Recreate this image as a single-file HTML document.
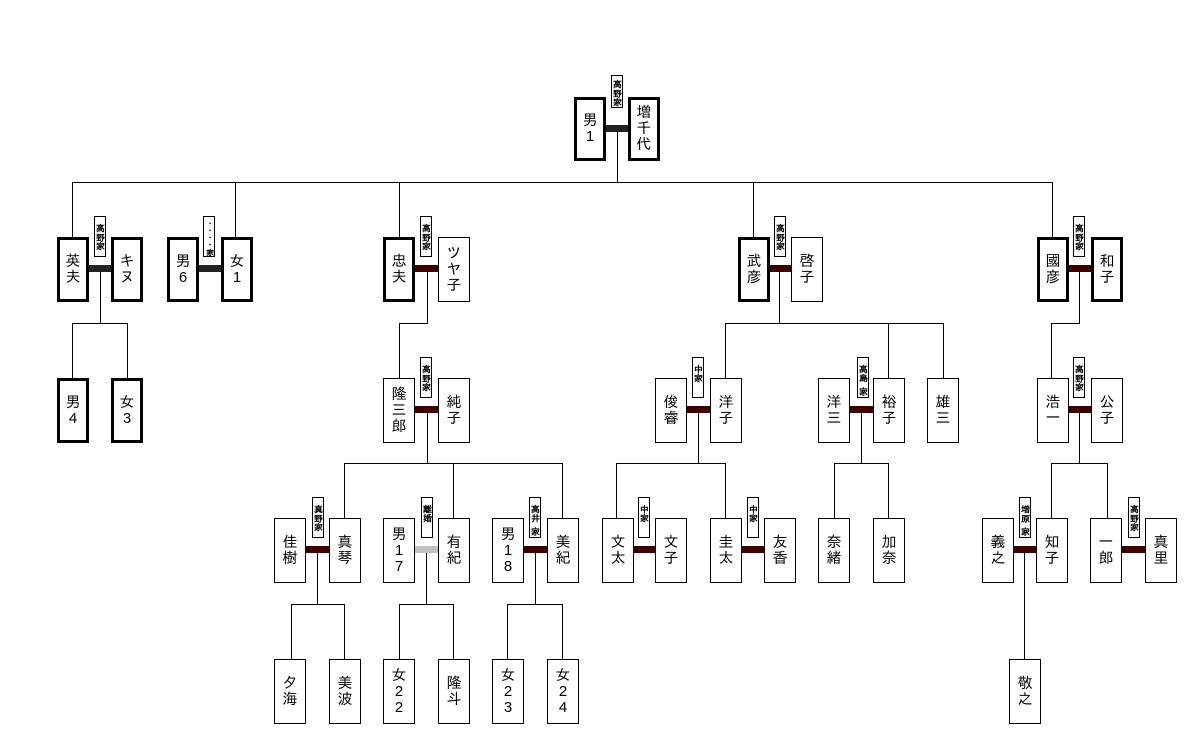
<!DOCTYPE html>
<html><head><meta charset="utf-8"><style>
html,body{margin:0;padding:0;background:#fff;}
body{width:1200px;height:750px;position:relative;overflow:hidden;font-family:"Liberation Sans","IPAGothic","Noto Sans CJK JP",sans-serif;}
.b{position:absolute;width:32px;height:65px;box-sizing:border-box;border:1px solid #000;background:#fff;display:flex;flex-direction:column;align-items:center;justify-content:center;font-size:15px;line-height:16px;color:#000;text-align:center;}
.t{border:3px solid #000;}
.h{position:absolute;height:1px;background:#000;}
.v{position:absolute;width:1px;background:#000;}
.bar{position:absolute;height:7px;background:#3c0000;}
.k{background:#222;}
.g{background:#c0c0c0;}
.l{position:absolute;width:12px;height:41px;box-sizing:border-box;border:1px solid #000;background:#fff;writing-mode:vertical-rl;font-size:9px;line-height:10px;font-weight:bold;padding-top:6px;color:#000;white-space:nowrap;overflow:hidden;font-family:"IPAGothic","Noto Sans CJK JP",sans-serif;}
</style></head><body>

<!-- lines -->
<div class="v" style="left:617px;top:132px;height:50px"></div>
<div class="h" style="left:72px;top:182px;width:981px"></div>
<div class="v" style="left:72px;top:182px;height:55px"></div>
<div class="v" style="left:235px;top:182px;height:55px"></div>
<div class="v" style="left:399px;top:182px;height:55px"></div>
<div class="v" style="left:753px;top:182px;height:55px"></div>
<div class="v" style="left:1052px;top:182px;height:55px"></div>

<!-- 英夫 children -->
<div class="v" style="left:100px;top:272px;height:51px"></div>
<div class="h" style="left:72px;top:323px;width:56px"></div>
<div class="v" style="left:72px;top:323px;height:55px"></div>
<div class="v" style="left:127px;top:323px;height:55px"></div>
<!-- 忠夫 -->
<div class="v" style="left:427px;top:272px;height:51px"></div>
<div class="h" style="left:399px;top:323px;width:29px"></div>
<div class="v" style="left:399px;top:323px;height:55px"></div>
<!-- 隆三郎 -->
<div class="v" style="left:427px;top:413px;height:50px"></div>
<div class="h" style="left:344px;top:463px;width:219px"></div>
<div class="v" style="left:344px;top:463px;height:55px"></div>
<div class="v" style="left:453px;top:463px;height:55px"></div>
<div class="v" style="left:562px;top:463px;height:55px"></div>
<!-- 武彦 -->
<div class="v" style="left:779px;top:272px;height:51px"></div>
<div class="h" style="left:725px;top:323px;width:219px"></div>
<div class="v" style="left:725px;top:323px;height:55px"></div>
<div class="v" style="left:888px;top:323px;height:55px"></div>
<div class="v" style="left:943px;top:323px;height:55px"></div>
<!-- 國彦 -->
<div class="v" style="left:1079px;top:272px;height:51px"></div>
<div class="h" style="left:1051px;top:323px;width:29px"></div>
<div class="v" style="left:1051px;top:323px;height:55px"></div>
<!-- 俊睿 -->
<div class="v" style="left:698px;top:413px;height:50px"></div>
<div class="h" style="left:616px;top:463px;width:110px"></div>
<div class="v" style="left:616px;top:463px;height:55px"></div>
<div class="v" style="left:725px;top:463px;height:55px"></div>
<!-- 洋三 -->
<div class="v" style="left:861px;top:413px;height:50px"></div>
<div class="h" style="left:834px;top:463px;width:55px"></div>
<div class="v" style="left:834px;top:463px;height:55px"></div>
<div class="v" style="left:888px;top:463px;height:55px"></div>
<!-- 浩一 -->
<div class="v" style="left:1079px;top:413px;height:50px"></div>
<div class="h" style="left:1051px;top:463px;width:57px"></div>
<div class="v" style="left:1051px;top:463px;height:55px"></div>
<div class="v" style="left:1107px;top:463px;height:55px"></div>
<!-- row4 children -->
<div class="v" style="left:317px;top:553px;height:51px"></div>
<div class="h" style="left:291px;top:604px;width:54px"></div>
<div class="v" style="left:291px;top:604px;height:55px"></div>
<div class="v" style="left:344px;top:604px;height:55px"></div>
<div class="v" style="left:426px;top:553px;height:51px"></div>
<div class="h" style="left:399px;top:604px;width:55px"></div>
<div class="v" style="left:399px;top:604px;height:55px"></div>
<div class="v" style="left:453px;top:604px;height:55px"></div>
<div class="v" style="left:535px;top:553px;height:51px"></div>
<div class="h" style="left:507px;top:604px;width:56px"></div>
<div class="v" style="left:507px;top:604px;height:55px"></div>
<div class="v" style="left:562px;top:604px;height:55px"></div>
<div class="v" style="left:1024px;top:553px;height:106px"></div>

<!-- bars -->
<div class="bar k" style="left:606px;top:125px;width:22px"></div>
<div class="bar k" style="left:89px;top:265px;width:22px"></div>
<div class="bar k" style="left:199px;top:265px;width:22px"></div>
<div class="bar" style="left:415px;top:265px;width:23px"></div>
<div class="bar" style="left:770px;top:265px;width:21px"></div>
<div class="bar" style="left:1069px;top:265px;width:22px"></div>
<div class="bar" style="left:415px;top:406px;width:23px"></div>
<div class="bar" style="left:687px;top:406px;width:23px"></div>
<div class="bar" style="left:850px;top:406px;width:23px"></div>
<div class="bar" style="left:1069px;top:406px;width:22px"></div>
<div class="bar" style="left:306px;top:546px;width:23px"></div>
<div class="bar g" style="left:415px;top:546px;width:23px"></div>
<div class="bar" style="left:524px;top:546px;width:23px"></div>
<div class="bar" style="left:634px;top:546px;width:21px"></div>
<div class="bar" style="left:742px;top:546px;width:22px"></div>
<div class="bar" style="left:1014px;top:546px;width:22px"></div>
<div class="bar" style="left:1122px;top:546px;width:23px"></div>

<!-- labels -->
<div class="l" style="left:611px;top:75px;height:33px;padding-top:3px">高野家</div>
<div class="l" style="left:94px;top:216px">高野家</div>
<div class="l" style="left:203px;top:216px;padding-top:2px;font-size:8px;line-height:9px;letter-spacing:-1px">・・・・家</div>
<div class="l" style="left:420px;top:216px">高野家</div>
<div class="l" style="left:774px;top:216px">高野家</div>
<div class="l" style="left:1073px;top:216px">高野家</div>
<div class="l" style="left:420px;top:357px">高野家</div>
<div class="l" style="left:692px;top:357px">中家</div>
<div class="l" style="left:857px;top:357px">高島 家</div>
<div class="l" style="left:1073px;top:357px">高野家</div>
<div class="l" style="left:312px;top:497px">真野家</div>
<div class="l" style="left:421px;top:497px">離婚</div>
<div class="l" style="left:529px;top:497px">高井 家</div>
<div class="l" style="left:638px;top:497px">中家</div>
<div class="l" style="left:747px;top:497px">中家</div>
<div class="l" style="left:1019px;top:497px">増原 家</div>
<div class="l" style="left:1128px;top:497px">高野家</div>

<!-- row1 -->
<div class="b t" style="left:574px;top:97px;height:64px">男<br>1</div>
<div class="b t" style="left:628px;top:97px;height:64px">増<br>千<br>代</div>

<!-- row2 -->
<div class="b t" style="left:57px;top:237px">英<br>夫</div>
<div class="b t" style="left:111px;top:237px">キ<br>ヌ</div>
<div class="b t" style="left:167px;top:237px">男<br>6</div>
<div class="b t" style="left:221px;top:237px">女<br>1</div>
<div class="b t" style="left:383px;top:237px">忠<br>夫</div>
<div class="b" style="left:438px;top:237px">ツ<br>ヤ<br>子</div>
<div class="b t" style="left:738px;top:237px">武<br>彦</div>
<div class="b" style="left:791px;top:237px">啓<br>子</div>
<div class="b t" style="left:1037px;top:237px">國<br>彦</div>
<div class="b t" style="left:1091px;top:237px">和<br>子</div>

<!-- row3 -->
<div class="b t" style="left:57px;top:378px">男<br>4</div>
<div class="b t" style="left:111px;top:378px">女<br>3</div>
<div class="b" style="left:383px;top:378px">隆<br>三<br>郎</div>
<div class="b" style="left:438px;top:378px">純<br>子</div>
<div class="b" style="left:655px;top:378px">俊<br>睿</div>
<div class="b" style="left:710px;top:378px">洋<br>子</div>
<div class="b" style="left:818px;top:378px">洋<br>三</div>
<div class="b" style="left:873px;top:378px">裕<br>子</div>
<div class="b" style="left:927px;top:378px">雄<br>三</div>
<div class="b" style="left:1037px;top:378px">浩<br>一</div>
<div class="b" style="left:1091px;top:378px">公<br>子</div>

<!-- row4 -->
<div class="b" style="left:274px;top:518px">佳<br>樹</div>
<div class="b" style="left:329px;top:518px">真<br>琴</div>
<div class="b" style="left:383px;top:518px">男<br>1<br>7</div>
<div class="b" style="left:438px;top:518px">有<br>紀</div>
<div class="b" style="left:492px;top:518px">男<br>1<br>8</div>
<div class="b" style="left:547px;top:518px">美<br>紀</div>
<div class="b" style="left:602px;top:518px">文<br>太</div>
<div class="b" style="left:655px;top:518px">文<br>子</div>
<div class="b" style="left:710px;top:518px">圭<br>太</div>
<div class="b" style="left:764px;top:518px">友<br>香</div>
<div class="b" style="left:818px;top:518px">奈<br>緒</div>
<div class="b" style="left:873px;top:518px">加<br>奈</div>
<div class="b" style="left:982px;top:518px">義<br>之</div>
<div class="b" style="left:1036px;top:518px">知<br>子</div>
<div class="b" style="left:1090px;top:518px">一<br>郎</div>
<div class="b" style="left:1145px;top:518px">真<br>里</div>

<!-- row5 -->
<div class="b" style="left:274px;top:659px">夕<br>海</div>
<div class="b" style="left:329px;top:659px">美<br>波</div>
<div class="b" style="left:383px;top:659px">女<br>2<br>2</div>
<div class="b" style="left:438px;top:659px">隆<br>斗</div>
<div class="b" style="left:492px;top:659px">女<br>2<br>3</div>
<div class="b" style="left:547px;top:659px">女<br>2<br>4</div>
<div class="b" style="left:1009px;top:659px">敬<br>之</div>

</body></html>
